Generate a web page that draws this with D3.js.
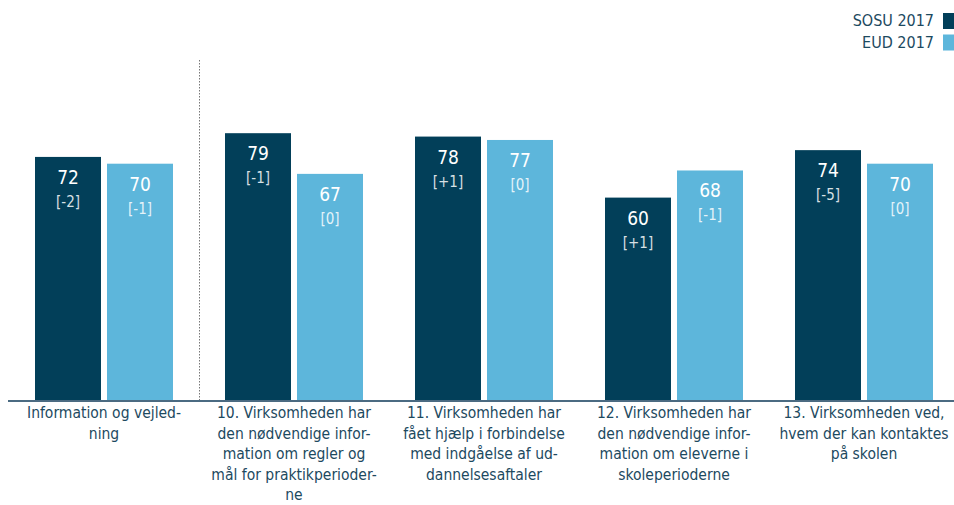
<!DOCTYPE html>
<html><head><meta charset="utf-8">
<script src="https://cdn.jsdelivr.net/npm/d3@7"></script>
<style>
html,body{margin:0;padding:0;background:#fff;}
text{font-family:"DejaVu Sans Condensed","DejaVu Sans",sans-serif;}
</style></head>
<body>
<svg id="chart" width="954" height="505"></svg>
<script>
const categories = [
  ["Information og vejled-","ning"],
  ["10. Virksomheden har","den nødvendige infor-","mation om regler og","mål for praktikperioder-","ne"],
  ["11. Virksomheden har","fået hjælp i forbindelse","med indgåelse af ud-","dannelsesaftaler"],
  ["12. Virksomheden har","den nødvendige infor-","mation om eleverne i","skoleperioderne"],
  ["13. Virksomheden ved,","hvem der kan kontaktes","på skolen"]
];
const seriesNames = ["SOSU 2017","EUD 2017"];
const sosu = [72,79,78,60,74];
const eud = [70,67,77,68,70];
const sosuDiff = ["[-2]","[-1]","[+1]","[+1]","[-5]"];
const eudDiff = ["[-1]","[0]","[0]","[-1]","[0]"];
const colors = ["#023f59","#5db6db"];

const svg = d3.select("#chart");
const x0 = d3.scaleBand().domain(d3.range(categories.length)).range([9, 959])
  .paddingInner(52/190).paddingOuter(26/190);
const x1 = d3.scaleBand().domain([0,1]).range([0, x0.bandwidth()]).paddingInner(6/72).paddingOuter(0);
const y = d3.scaleLinear().domain([0,100]).range([401, 62]);
const textColor = "#1d4a5f";

const data = categories.map((c,i)=>({i, vals:[{s:0,v:sosu[i],d:sosuDiff[i]},{s:1,v:eud[i],d:eudDiff[i]}]}));

const g = svg.selectAll("g.grp").data(data).join("g").attr("class","grp")
  .attr("transform", d=>`translate(${x0(d.i)},0)`);
const bar = g.selectAll("g.bar").data(d=>d.vals).join("g").attr("class","bar");
bar.append("rect")
  .attr("x", d=>x1(d.s)).attr("width", x1.bandwidth())
  .attr("y", d=>y(d.v)).attr("height", d=>y(0)-y(d.v))
  .attr("fill", d=>colors[d.s]);
bar.append("text")
  .attr("x", d=>x1(d.s)+x1.bandwidth()/2).attr("y", d=>y(d.v)+27)
  .attr("text-anchor","middle").attr("font-size",19).attr("fill","#fff")
  .text(d=>d.v);
bar.append("text")
  .attr("x", d=>x1(d.s)+x1.bandwidth()/2).attr("y", d=>y(d.v)+50)
  .attr("text-anchor","middle").attr("font-size",15).attr("fill","#fff").attr("fill-opacity",0.85)
  .text(d=>d.d);

// category labels
const lab = svg.selectAll("text.cat").data(categories).join("text").attr("class","cat")
  .attr("text-anchor","middle").attr("font-size",15.5).attr("fill",textColor)
  .attr("transform",(d,i)=>`translate(${x0(i)+x0.bandwidth()/2},418)`);
lab.selectAll("tspan").data(d=>d).join("tspan")
  .attr("x",0).attr("y",(d,j)=>j*20.6).text(d=>d);

// axis line
svg.append("line").attr("x1",8).attr("x2",954).attr("y1",401).attr("y2",401)
  .attr("stroke","#4b6b82").attr("stroke-width",2);
// separator
const sepX = (x0(0)+x0.bandwidth() + x0(1))/2;
svg.append("line").attr("x1",Math.round(sepX)+0.5).attr("x2",Math.round(sepX)+0.5).attr("y1",60).attr("y2",400)
  .attr("stroke","#777").attr("stroke-width",1).attr("stroke-dasharray","1.5,1.5");

// legend
const leg = svg.selectAll("g.leg").data(seriesNames).join("g").attr("class","leg")
  .attr("transform",(d,i)=>`translate(0,${13+i*21.5})`);
leg.append("rect").attr("x",943).attr("y",0).attr("width",12).attr("height",16).attr("fill",(d,i)=>colors[i]);
leg.append("text").attr("x",934).attr("y",13).attr("text-anchor","end").attr("font-size",16)
  .attr("fill",textColor).text(d=>d);
</script>
</body></html>
